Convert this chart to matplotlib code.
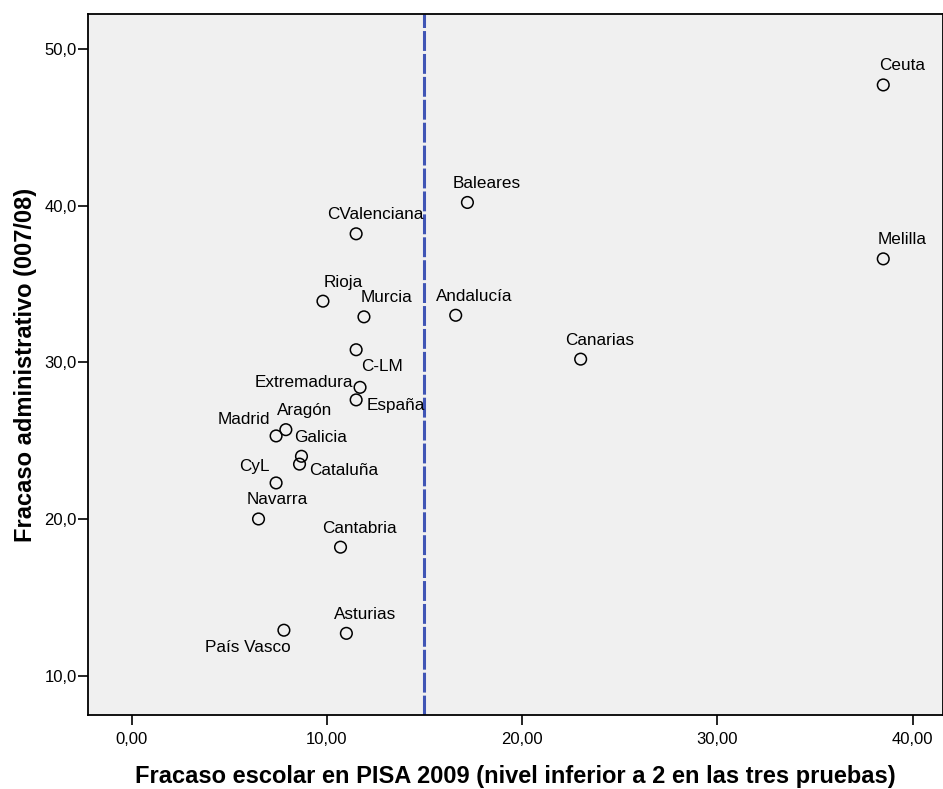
import matplotlib
matplotlib.use("Agg")
import matplotlib.pyplot as plt
from matplotlib.ticker import FuncFormatter

plt.rcParams['font.family'] = ['Liberation Sans', 'DejaVu Sans']

# data
regiones = ['Ceuta', 'Melilla', 'Canarias', 'Baleares', 'CValenciana', 'Rioja',
            'Murcia', 'Andalucía', 'C-LM', 'Extremadura', 'España', 'Aragón',
            'Madrid', 'Galicia', 'Cataluña', 'CyL', 'Navarra', 'Cantabria',
            'Asturias', 'País Vasco']
fracaso_pisa = [38.5, 38.5, 23.0, 17.2, 11.5, 9.8, 11.9, 16.6, 11.5, 11.7,
                11.5, 7.9, 7.4, 8.7, 8.6, 7.4, 6.5, 10.7, 11.0, 7.8]
fracaso_admin = [47.7, 36.6, 30.2, 40.2, 38.2, 33.9, 32.9, 33.0, 30.8, 28.4,
                 27.6, 25.7, 25.3, 24.0, 23.5, 22.3, 20.0, 18.2, 12.7, 12.9]
linea_ref = 15.0

# label offsets in pixels (dx, dy up, alignment); default above-right
offsets = {
    'Murcia': (23, 19, 'center'),
    'Rioja': (20, 19, 'center'),
    'C-LM': (26, -17, 'center'),
    'Extremadura': (-7, 5, 'right'),
    'España': (10, -6, 'left'),
    'Madrid': (-6, 16, 'right'),
    'Cataluña': (10, -6, 'left'),
    'CyL': (-6, 16, 'right'),
    'País Vasco': (7, -17, 'right'),
}

fig = plt.figure(figsize=(9.43, 7.89), dpi=100)
ax = fig.add_axes([0.093, 0.0938, 0.907, 0.8885])
ax.set_facecolor('#F0F0F0')

ax.axvline(linea_ref, color='#4055B5', lw=2.2, dashes=(6.5, 1.0), zorder=1)

ax.scatter(fracaso_pisa, fracaso_admin, s=70, facecolors='none',
           edgecolors='black', linewidths=1.1, zorder=3)

for nombre, x, y in zip(regiones, fracaso_pisa, fracaso_admin):
    dx, dy, ha = offsets.get(nombre, (19, 19, 'center'))
    ax.annotate(nombre, (x, y), xytext=(dx, dy), textcoords='offset pixels',
                ha=ha, va='center', fontsize=12.3, color='black', zorder=4)

ax.set_xlim(-2.25, 41.56)
ax.set_ylim(7.49, 52.23)
ax.set_xticks([0, 10, 20, 30, 40])
ax.set_yticks([10, 20, 30, 40, 50])
ax.xaxis.set_major_formatter(FuncFormatter(lambda v, p: f'{v:.2f}'.replace('.', ',')))
ax.yaxis.set_major_formatter(FuncFormatter(lambda v, p: f'{v:.1f}'.replace('.', ',')))
ax.tick_params(axis='both', direction='out', length=7, width=1.2,
               labelsize=12, colors='black')
ax.tick_params(axis='y', pad=1)
ax.tick_params(axis='x', pad=5)
for s in ax.spines.values():
    s.set_color('black')
    s.set_linewidth(1.3)

ax.set_xlabel('Fracaso escolar en PISA 2009 (nivel inferior a 2 en las tres pruebas)',
              fontsize=17, fontweight='bold', labelpad=13)
ax.set_ylabel('Fracaso administrativo (007/08)', fontsize=17, fontweight='bold',
              labelpad=5)

fig.savefig('out.png', dpi=100)
